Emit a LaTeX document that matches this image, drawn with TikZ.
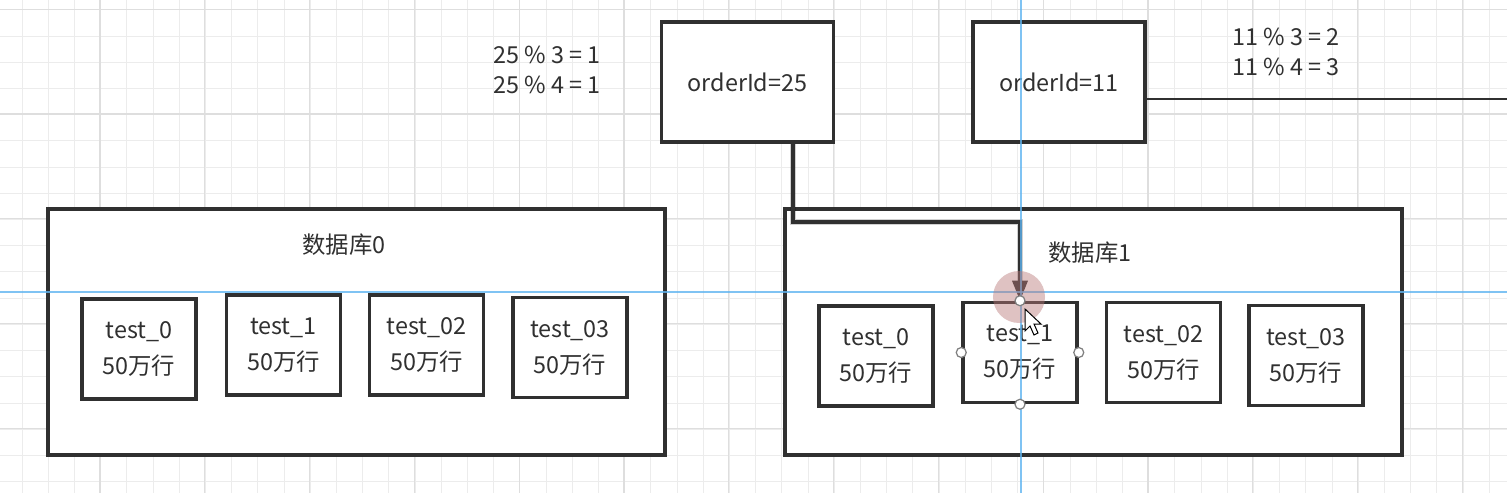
\documentclass[tikz,border=0pt]{standalone}
\usepackage{fontspec}
\setmainfont{Noto Sans CJK SC}
\usetikzlibrary{positioning}
\usetikzlibrary{arrows.meta,calc}

\definecolor{inkgray}{RGB}{48,48,48}
\definecolor{gridminor}{RGB}{236,236,236}
\definecolor{gridmajor}{RGB}{222,222,222}
\definecolor{guideblue}{RGB}{95,180,240}
\definecolor{hilite}{RGB}{185,120,120}

\begin{document}
\begin{tikzpicture}
    [x=0.2mm, y=-0.2mm,
      font=\fontsize{13.3pt}{19pt}\selectfont, text=inkgray,
      minorline/.style={draw=gridminor, line width=0.2mm},
      majorline/.style={draw=gridmajor, line width=0.25mm},
      idbox/.style={draw=inkgray, fill=white, line width=0.7mm, minimum width=34.4mm, minimum height=24mm},
      dbbox/.style={draw=inkgray, fill=white, line width=0.7mm, minimum width=123.4mm, minimum height=49.2mm},
      tbl/.style={draw=inkgray, fill=white, line width=0.7mm, minimum width=22.8mm, minimum height=20mm, align=center, inner sep=0pt, font=\fontsize{13.3pt}{20.5pt}\selectfont},
      modtext/.style={align=left, inner sep=0pt, font=\fontsize{13.3pt}{17pt}\selectfont},
      flow/.style={-{Triangle[length=4mm,width=3mm]}, draw=inkgray, line width=0.65mm},
      uarc/.style={-, draw=inkgray, line width=0.55mm},
      guide/.style={draw=guideblue, line width=0.25mm, opacity=0.8},
      handle/.style={circle, draw=gray, fill=white, line width=0.25mm, minimum size=2mm, inner sep=0pt}]

    % background grid of the editor
    \useasboundingbox (0,0) rectangle (1507,493);
    \fill[white] (0,0) rectangle (1507,493);
    \foreach \i in {0,...,57}
      \draw[minorline] ({22+26.2*\i},0) -- ++(0,493);
    \foreach \j in {0,...,18}
      \draw[minorline] (0,{10+26.2*\j}) -- ++(1507,0);
    \foreach \i in {0,...,14}
      \draw[majorline] ({-4.8+104.8*\i},0) -- ++(0,493);
    \foreach \j in {0,...,4}
      \draw[majorline] (0,{9.2+104.8*\j}) -- ++(1507,0);

    % orders
    \node (id25) at (747.5,82) [idbox] {orderId=25};
    \node (id11) at (1059,82) [idbox] {orderId=11};
    \node (mod25) at (547,70) [modtext] {25 \% 3 = 1\\25 \% 4 = 1};
    \node (mod11) at (1286,52) [modtext] {11 \% 3 = 2\\11 \% 4 = 3};

    % databases
    \node (db0) at (356.5,332) [dbbox] {};
    \node (db1) at (1093.5,332) [dbbox] {};
    \node (db0lbl) at (344,245) {数据库0};
    \node (db1lbl) at (1090,253) {数据库1};

    % tables of db0
    \node (d0t0) at (139,349) [tbl] {test\_0\\50万行};
    \node (d0t1) at (283.5,345) [tbl] {test\_1\\50万行};
    \node (d0t2) at (426.5,345) [tbl] {test\_02\\50万行};
    \node (d0t3) at (570,347.5) [tbl] {test\_03\\50万行};

    % tables of db1
    \node (d1t0) at (876,356) [tbl] {test\_0\\50万行};
    \node (d1t1) at (1020,352.5) [tbl] {test\_1\\50万行};
    \node (d1t2) at (1163.5,352.5) [tbl] {test\_02\\50万行};
    \node (d1t3) at (1306,355.5) [tbl] {test\_03\\50万行};

    % routing of orderId=25
    \coordinate (bend) at (793,222);
    \draw[line width=1.2mm, draw=black, opacity=0.18, shift={(3,3)}]
      (id25.south -| bend) -- (bend) -| ([yshift=4mm]d1t1.north);
    \draw[flow] (id25.south -| bend) -- (bend) -| (d1t1.north);

    % orderId=11 leaving to the right
    \coordinate (out11) at (1507,99);
    \draw[uarc] (id11.east |- out11) -- (out11);

    % editor guides and selection
    \draw[guide] (0,292) -- (1507,292);
    \draw[guide] (1021,0) -- (1021,493);
    \fill[hilite, opacity=0.45] (1019,297) circle (26);
    \node (h1) at (d1t1.north) [handle] {};
    \node (h2) at (d1t1.west) [handle] {};
    \node (h3) at (d1t1.east) [handle] {};
    \node (h4) at (d1t1.south) [handle] {};
    \draw[fill=white, draw=black, line width=0.2mm]
      (1025,309) -- (1025,331) -- (1030,326) -- (1034,335) -- (1038,333)
      -- (1034,324) -- (1041,324) -- cycle;
  \end{tikzpicture}
\end{document}
